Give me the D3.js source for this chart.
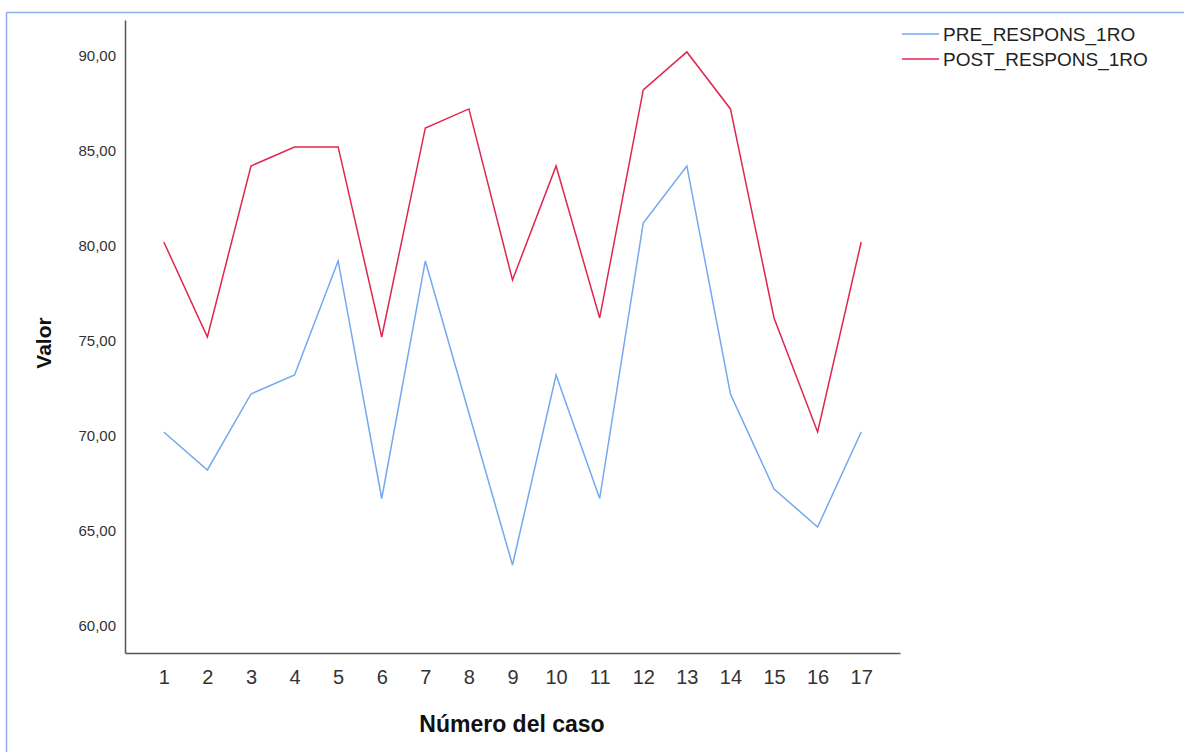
<!DOCTYPE html>
<html>
<head>
<meta charset="utf-8">
<script src="https://cdn.jsdelivr.net/npm/d3@7"></script>
<style>
  html, body { margin: 0; padding: 0; background: #fff; }
  svg { display: block; font-family: "Liberation Sans", Arial, sans-serif; }
</style>
</head>
<body>
<svg id="chart" width="1185" height="752"></svg>
<script>
const cases = [1,2,3,4,5,6,7,8,9,10,11,12,13,14,15,16,17];
const preValues = [70,68,72,73,79,66.5,79,71,63,73,66.5,81,84,72,67,65,70];
const postValues = [80,75,84,85,85,75,86,87,78,84,76,88,90,87,76,70,80];
const yTicks = [60,65,70,75,80,85,90];
const seriesNames = ["PRE_RESPONS_1RO","POST_RESPONS_1RO"];
const seriesColors = ["#74a9f0","#e0264f"];

const svg = d3.select("#chart");

// frame border (top and left)
svg.append("line").attr("x1",6.5).attr("x2",1184).attr("y1",12.5).attr("y2",12.5)
  .attr("stroke","#8eaee6").attr("stroke-width",1.5);
svg.append("line").attr("x1",6.5).attr("x2",6.5).attr("y1",12.5).attr("y2",752)
  .attr("stroke","#8eaee6").attr("stroke-width",1.5);

const x = d3.scalePoint().domain(cases).range([125, 900]).padding(0.89);
const y = d3.scaleLinear().domain([58.37, 91.68]).range([653, 20]);

// axes
const xAxis = svg.append("g").attr("transform","translate(0,653)")
  .call(d3.axisBottom(x).tickSize(0).tickPadding(17));
xAxis.select(".domain").attr("stroke","#555").attr("stroke-width",1.5);
xAxis.selectAll("text").attr("font-size",20).attr("fill","#333")
  .attr("font-family","'Liberation Sans', Arial, sans-serif").attr("dy","0.71em");

const fmt = v => d3.format(".2f")(v).replace(".", ",");
const yAxis = svg.append("g").attr("transform","translate(125,0)")
  .call(d3.axisLeft(y).tickValues(yTicks).tickFormat(fmt).tickSize(0).tickPadding(9));
yAxis.select(".domain").attr("stroke","#555").attr("stroke-width",1.5);
yAxis.selectAll("text").attr("font-size",15).attr("fill","#333")
  .attr("font-family","'Liberation Sans', Arial, sans-serif").attr("dy","0.55em");

// axis titles
svg.append("text").attr("x",512).attr("y",732).attr("text-anchor","middle")
  .attr("font-size",23).attr("font-weight","bold").attr("fill","#111").text("Número del caso");
svg.append("text").attr("transform","translate(51,343) rotate(-90)").attr("text-anchor","middle")
  .attr("font-size",21).attr("font-weight","bold").attr("fill","#111").text("Valor");

// lines
const line = d3.line().x((d,i) => x(cases[i])).y(d => y(d));
[preValues, postValues].forEach((vals, k) => {
  svg.append("path").datum(vals).attr("d", line)
    .attr("fill","none").attr("stroke", seriesColors[k]).attr("stroke-width",1.5)
    .attr("stroke-linejoin","miter");
});

// legend
const legend = svg.append("g");
seriesNames.forEach((name, k) => {
  const ly = 34 + k * 25;
  legend.append("line").attr("x1",902).attr("x2",939).attr("y1",ly).attr("y2",ly)
    .attr("stroke", seriesColors[k]).attr("stroke-width",1.5);
  legend.append("text").attr("x",943).attr("y",ly).attr("dy","0.36em")
    .attr("font-size",19).attr("fill","#222").text(name);
});
</script>
</body>
</html>
